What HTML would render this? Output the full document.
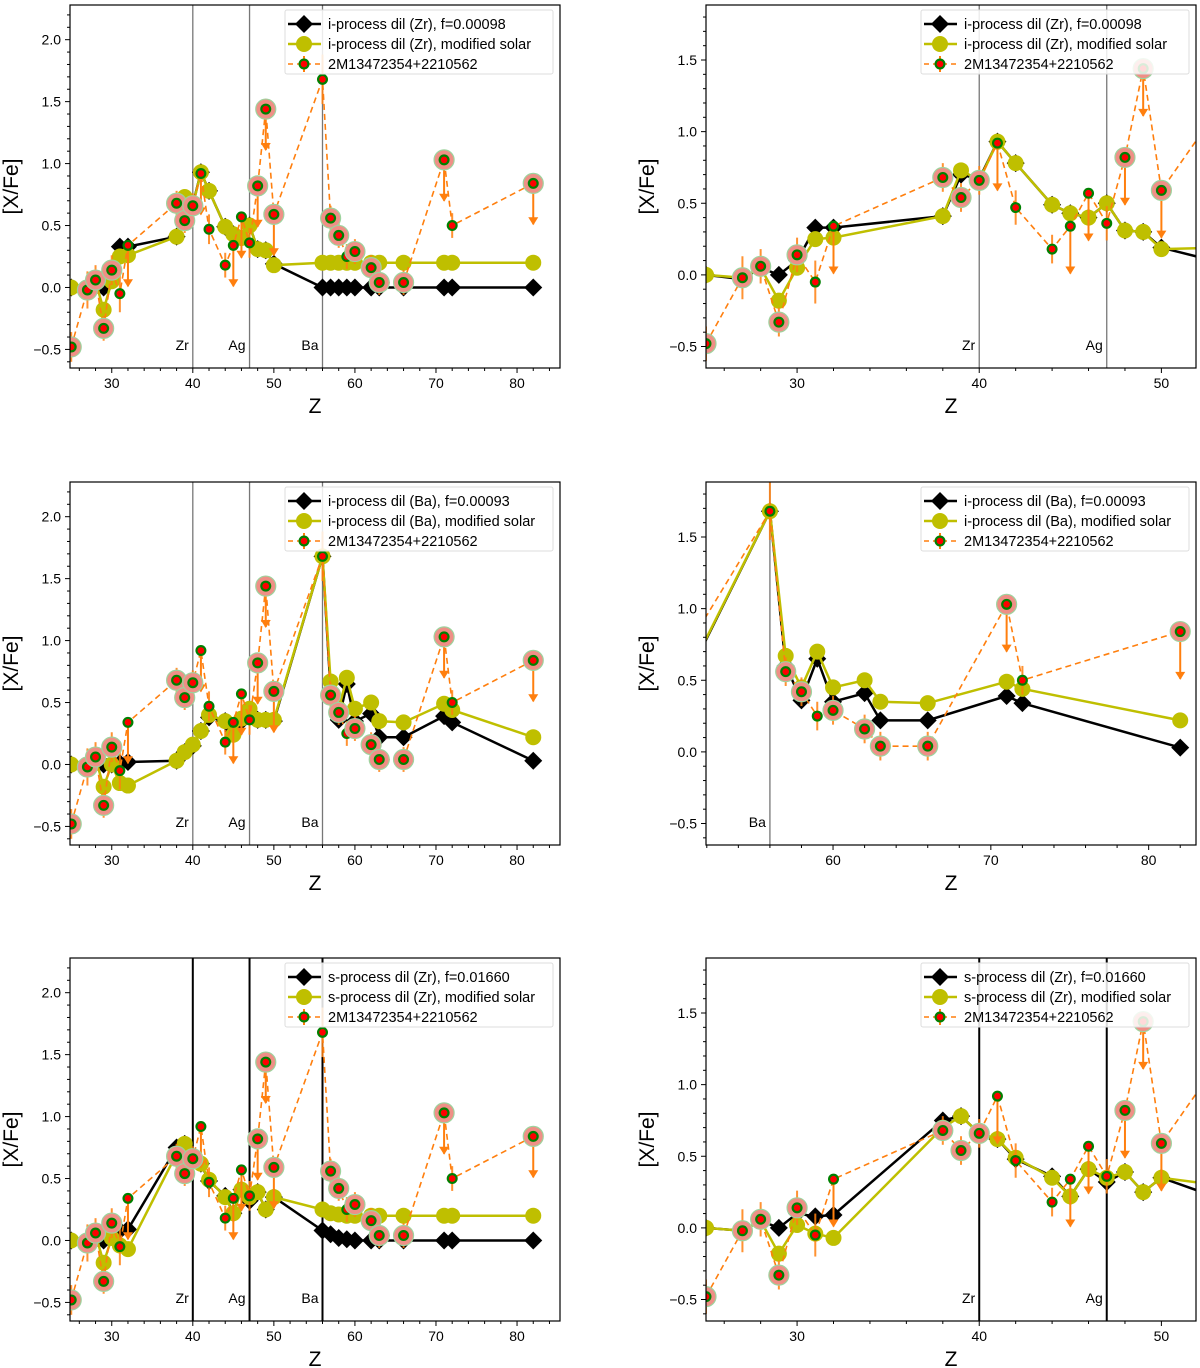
<!DOCTYPE html>
<html><head><meta charset="utf-8"><style>
html,body{margin:0;padding:0;background:#fff;}
svg{display:block;font-family:"Liberation Sans","DejaVu Sans",sans-serif;}
</style></head><body>
<svg id="fig" width="1200" height="1368" viewBox="0 0 1200 1368" xmlns="http://www.w3.org/2000/svg"></svg>
<script>
// ---- data ----
const elemZ = [25,27,28,29,30,31,32,38,39,40,41,42,44,45,46,47,48,49,50,56,57,58,59,60,62,63,66,71,72,82];
const starVals = [-0.48,-0.02,0.06,-0.33,0.14,-0.05,0.34,0.68,0.54,0.66,0.92,0.47,0.18,0.34,0.57,0.36,0.82,1.44,0.59,1.68,0.56,0.42,0.25,0.29,0.16,0.04,0.04,1.03,0.50,0.84];
const starErr = [0.12,0.15,0.12,0.1,0.12,0.15,0.0,0.1,0.1,0.1,0.1,0.12,0.1,0.0,0.0,0.12,0.0,0.0,0.0,0.2,0.1,0.1,0.1,0.1,0.1,0.1,0.1,0.0,0.1,0.0];
const starUpper = [0,0,0,0,0,0,1,0,0,0,1,0,0,1,1,0,1,1,1,0,0,0,0,0,0,0,0,1,0,1];
const starBig = [1,1,1,1,1,0,0,1,1,1,0,0,0,0,0,0,1,1,1,0,1,1,0,1,1,1,1,1,0,1];
const zrBlack = [0.0,-0.03,0.05,0.0,0.10,0.33,0.33,0.41,0.70,0.67,0.93,0.78,0.49,0.43,0.40,0.50,0.31,0.30,0.19,0.0,0,0,0,0,0,0,0,0,0,0];
const zrYellow = [0.0,-0.02,0.05,-0.18,0.05,0.25,0.26,0.41,0.73,0.66,0.93,0.78,0.49,0.43,0.40,0.50,0.31,0.30,0.18,0.2,0.2,0.2,0.2,0.2,0.2,0.2,0.2,0.2,0.2,0.2];
const baBlack = [0.0,-0.02,0.03,0.0,0.0,0.01,0.02,0.03,0.10,0.15,0.27,0.38,0.35,0.27,0.35,0.42,0.36,0.36,0.35,1.68,0.60,0.36,0.65,0.35,0.41,0.22,0.22,0.39,0.34,0.03];
const baYellow = [0.0,-0.02,0.05,-0.18,0.0,-0.15,-0.17,0.03,0.10,0.16,0.27,0.40,0.35,0.24,0.37,0.45,0.36,0.36,0.36,1.68,0.67,0.45,0.70,0.45,0.50,0.35,0.34,0.49,0.44,0.22];
const sBlack = [0.0,-0.02,0.05,0.0,0.10,0.08,0.09,0.75,0.78,0.66,0.62,0.48,0.36,0.22,0.41,0.32,0.39,0.25,0.35,0.08,0.05,0.02,0.01,0.0,0,0,0,0,0,0];
const sYellow = [0.0,-0.02,0.05,-0.18,0.02,-0.04,-0.07,0.70,0.78,0.66,0.62,0.49,0.35,0.22,0.41,0.35,0.39,0.25,0.35,0.25,0.22,0.21,0.20,0.2,0.2,0.2,0.2,0.2,0.2,0.2];
const leftXTicks = [30,40,50,60,70,80];
const leftYTicks = [-0.5,0.0,0.5,1.0,1.5,2.0];
const rightYTicks = [-0.5,0.0,0.5,1.0,1.5];
const zoomXTicks = [30,40,50];
const baXTicks = [60,70,80];
const lineZr = [40,47];
const lineAll = [40,47,56];
const lineBa = [56];
const labelZr = ["Zr","Ag"];
const labelAll = ["Zr","Ag","Ba"];
const labelBa = ["Ba"];

const YEL='#bfbf00';
const NS="http://www.w3.org/2000/svg";
const fig=document.getElementById('fig');
function mk(tag,attrs,parent){const e=document.createElementNS(NS,tag);for(const k in attrs)e.setAttribute(k,attrs[k]);(parent||fig).appendChild(e);return e;}
const fmt=v=>(v<0?"\u2212"+Math.abs(v).toFixed(1):v.toFixed(1));

const panels=[
 {id:'p1',L:70,R:560,T:5,B:368,x0:24.85,x1:85.3,y0:-0.65,y1:2.28,xt:leftXTicks,yt:leftYTicks,vl:lineAll,vt:labelAll,thick:false,bk:zrBlack,yl:zrYellow,lab:['i-process dil (Zr), f=0.00098','i-process dil (Zr), modified solar']},
 {id:'p2',L:706,R:1196,T:5,B:368,x0:25.0,x1:51.9,y0:-0.65,y1:1.884,xt:zoomXTicks,yt:rightYTicks,vl:lineZr,vt:labelZr,thick:false,bk:zrBlack,yl:zrYellow,lab:['i-process dil (Zr), f=0.00098','i-process dil (Zr), modified solar']},
 {id:'p3',L:70,R:560,T:482,B:845,x0:24.85,x1:85.3,y0:-0.65,y1:2.28,xt:leftXTicks,yt:leftYTicks,vl:lineAll,vt:labelAll,thick:false,bk:baBlack,yl:baYellow,lab:['i-process dil (Ba), f=0.00093','i-process dil (Ba), modified solar']},
 {id:'p4',L:706,R:1196,T:482,B:845,x0:51.95,x1:83.0,y0:-0.65,y1:1.884,xt:baXTicks,yt:rightYTicks,vl:lineBa,vt:labelBa,thick:false,bk:baBlack,yl:baYellow,lab:['i-process dil (Ba), f=0.00093','i-process dil (Ba), modified solar']},
 {id:'p5',L:70,R:560,T:958,B:1321,x0:24.85,x1:85.3,y0:-0.65,y1:2.28,xt:leftXTicks,yt:leftYTicks,vl:lineAll,vt:labelAll,thick:true,bk:sBlack,yl:sYellow,lab:['s-process dil (Zr), f=0.01660','s-process dil (Zr), modified solar']},
 {id:'p6',L:706,R:1196,T:958,B:1321,x0:25.0,x1:51.9,y0:-0.65,y1:1.884,xt:zoomXTicks,yt:rightYTicks,vl:lineZr,vt:labelZr,thick:true,bk:sBlack,yl:sYellow,lab:['s-process dil (Zr), f=0.01660','s-process dil (Zr), modified solar']},
];

panels.forEach((p,pi)=>{
 const g=mk('g',{});
 
 
 const sx=z=>p.L+(z-p.x0)/(p.x1-p.x0)*(p.R-p.L);
 const sy=v=>p.B-(v-p.y0)/(p.y1-p.y0)*(p.B-p.T);
 const cid='clip'+pi;
 const defs=mk('defs',{},g);
 const cp=mk('clipPath',{id:cid},defs);
 mk('rect',{x:p.L,y:p.T,width:p.R-p.L,height:p.B-p.T},cp);
 const plot=mk('g',{'clip-path':'url(#'+cid+')'},g);
 p.vl.forEach((z,i)=>{
  const l=mk('line',{x1:sx(z),x2:sx(z),y1:p.T,y2:p.B,stroke:p.thick?'#000':'#777','stroke-width':p.thick?2:1.3},plot);
  
  
  const t=mk('text',{x:sx(z)-4,y:p.B-18,'font-size':14,'text-anchor':'end',fill:'#000'},plot);
  t.textContent=p.vt[i];
  
  
 });
 const bpts=elemZ.map((z,i)=>sx(z)+','+sy(p.bk[i])).join(' ');
 const bl=mk('polyline',{points:bpts,fill:'none',stroke:'#000','stroke-width':2.5},plot);
 
 
 elemZ.forEach((z,i)=>{
  const x=sx(z),y=sy(p.bk[i]),d=9;
  const m=mk('polygon',{points:`${x},${y-d} ${x+d},${y} ${x},${y+d} ${x-d},${y}`,fill:'#000'},plot);
  
  
 });
 const ypts=elemZ.map((z,i)=>sx(z)+','+sy(p.yl[i])).join(' ');
 const yl=mk('polyline',{points:ypts,fill:'none',stroke:YEL,'stroke-width':2.5},plot);
 
 
 elemZ.forEach((z,i)=>{
  const c=mk('circle',{cx:sx(z),cy:sy(p.yl[i]),r:8,fill:YEL},plot);
  
  
 });
 const spts=elemZ.map((z,i)=>sx(z)+','+sy(starVals[i])).join(' ');
 const sl=mk('polyline',{points:spts,fill:'none',stroke:'#ff7f0e','stroke-width':1.6,'stroke-dasharray':'6,4'},plot);
 
 
 elemZ.forEach((z,i)=>{
  const x=sx(z),y=sy(starVals[i]);
  if(starUpper[i]){
   const y2=sy(starVals[i]-0.33);
   const a=mk('line',{x1:x,x2:x,y1:y,y2:y2,stroke:'#ff7f0e','stroke-width':2},plot);
   
   
   mk('polygon',{points:`${x-5},${y2-7} ${x+5},${y2-7} ${x},${y2+1}`,fill:'#ff7f0e'},plot);
  } else if(starErr[i]>0){
   const e=mk('line',{x1:x,x2:x,y1:sy(starVals[i]+starErr[i]),y2:sy(starVals[i]-starErr[i]),stroke:'#ff7f0e','stroke-width':2,'stroke-opacity':0.85},plot);
   
   
  }
 });
 elemZ.forEach((z,i)=>{
  const x=sx(z),y=sy(starVals[i]);
  if(starBig[i]){
   mk('circle',{cx:x,cy:y,r:10,fill:'#ef8f86',stroke:'#9ed39e','stroke-width':1.2},plot);
  }
  const c=mk('circle',{cx:x,cy:y,r:5.5,fill:'#008000'},plot);
  
  
  mk('circle',{cx:x,cy:y,r:3.3,fill:'#ff0000'},plot);
 });
 const fr=mk('rect',{x:p.L,y:p.T,width:p.R-p.L,height:p.B-p.T,fill:'none',stroke:'#000','stroke-width':1.2},g);
 
 
 for(let z=Math.ceil(p.x0/2)*2;z<=p.x1;z+=2){
  const major=(z%10===0);
  mk('line',{x1:sx(z),x2:sx(z),y1:p.B,y2:p.B+(major?5:3),stroke:'#000','stroke-width':1},g);
 }
 p.xt.forEach(z=>{
  const t=mk('text',{x:sx(z),y:p.B+20,'font-size':14,'text-anchor':'middle'},g);
  t.textContent=z;
  
  
 });
 for(let k=Math.ceil(p.y0*10);k<=p.y1*10;k++){
  const major=(k%5===0);
  mk('line',{x1:p.L,x2:p.L-(major?5:3),y1:sy(k/10),y2:sy(k/10),stroke:'#000','stroke-width':1},g);
 }
 p.yt.forEach(v=>{
  const t=mk('text',{x:p.L-9,y:sy(v)+5,'font-size':14,'text-anchor':'end'},g);
  t.textContent=fmt(v);
  
  
 });
 const xt=mk('text',{x:(p.L+p.R)/2,y:p.B+45,'font-size':21,'text-anchor':'middle'},g);
 xt.textContent='Z';
 
 
 const ycx=p.L-52,ycy=(p.T+p.B)/2;
 const yt=mk('text',{x:ycx,y:ycy,'font-size':21,'text-anchor':'middle',transform:`rotate(-90 ${ycx} ${ycy})`},g);
 yt.textContent='[X/Fe]';
 
 
 const lx=p.R-275,ly=p.T+5;
 const lg=mk('g',{},g);
 
 
 mk('rect',{x:lx,y:ly,width:268,height:64,fill:'#fff','fill-opacity':0.85,stroke:'#ddd','stroke-width':1,rx:2},lg);
 const rows=[p.lab[0],p.lab[1],'2M13472354+2210562'];
 rows.forEach((txt,i)=>{
  const ry=ly+14+i*20,x1=lx+3,x2=lx+36,xm=lx+19;
  if(i===0){mk('line',{x1,x2,y1:ry,y2:ry,stroke:'#000','stroke-width':2.5},lg);mk('polygon',{points:`${xm},${ry-9} ${xm+9},${ry} ${xm},${ry+9} ${xm-9},${ry}`,fill:'#000'},lg);}
  if(i===1){mk('line',{x1,x2,y1:ry,y2:ry,stroke:YEL,'stroke-width':2.5},lg);mk('circle',{cx:xm,cy:ry,r:8,fill:YEL},lg);}
  if(i===2){mk('line',{x1,x2,y1:ry,y2:ry,stroke:'#ff7f0e','stroke-width':1.6,'stroke-dasharray':'5,4'},lg);mk('line',{x1:xm,x2:xm,y1:ry-8,y2:ry+8,stroke:'#ff7f0e','stroke-width':2},lg);mk('circle',{cx:xm,cy:ry,r:5.5,fill:'#008000'},lg);mk('circle',{cx:xm,cy:ry,r:3.3,fill:'#f00'},lg);}
  const t=mk('text',{x:lx+43,y:ry+5,'font-size':14.5},lg);
  t.textContent=txt;
  
  
 });
});
</script>
</body></html>
